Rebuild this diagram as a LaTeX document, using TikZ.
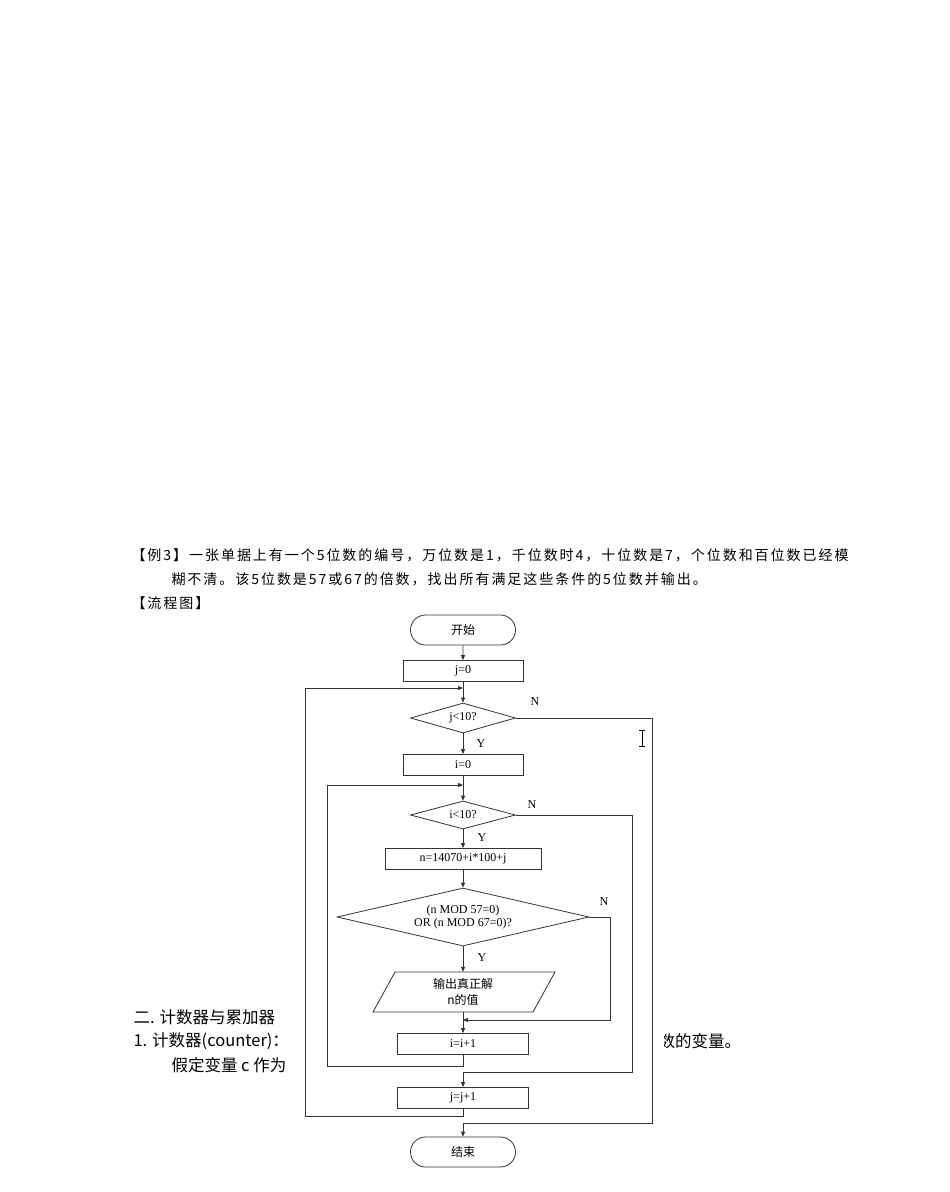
\documentclass[tikz,border=0pt]{standalone}
\usepackage{fontspec}
\setmainfont{Liberation Serif}
\newfontfamily\cjk{Noto Sans CJK SC}
\newfontfamily\cjkw[LetterSpace=14]{Noto Sans CJK SC}
\usetikzlibrary{shapes.geometric,shapes.misc,arrows.meta}
\begin{document}
\begin{tikzpicture}[x=1pt,y=-1pt,
  ln/.style={line width=0.8pt,draw=black!80},
  arr/.style={ln,-{Triangle[length=5pt,width=4pt]}},
  box/.style={ln,rectangle,minimum height=21pt,inner sep=0pt,font=\fontsize{12}{13}\selectfont},
  term/.style={ln,rounded rectangle,minimum width=105pt,minimum height=30pt,inner sep=0pt,font=\cjk\fontsize{12}{13}\selectfont},
  dia/.style={ln,diamond,aspect=3.5,inner sep=0pt,font=\fontsize{12}{13}\selectfont},
  lbl/.style={font=\fontsize{12}{13}\selectfont},
  bt/.style={anchor=west,font=\cjkw\fontsize{14}{15}\selectfont},
  ct/.style={anchor=west,font=\cjk\fontsize{16.5}{17}\selectfont}]
\useasboundingbox (0,0) rectangle (950,1192);
% page text
\node[bt] (t1) at (128,555) {【例3】一张单据上有一个5位数的编号，万位数是1，千位数时4，十位数是7，个位数和百位数已经模};
\node[bt] (t2) at (168,579) {糊不清。该5位数是57或67的倍数，找出所有满足这些条件的5位数并输出。};
\node[bt] (t3) at (128,603) {【流程图】};
\node[ct] (t4) at (130,1017) {二. 计数器与累加器};
\node[ct] (t5) at (130,1041) {1. 计数器(counter)：};
\node[ct] (t6) at (168,1065) {假定变量 c 作为};
\node[ct] (t7) at (655,1041) {数的变量。};
\fill[white] (298,612) rectangle (664,1172);
% flowchart
\node[term] (start) at (463,630) {开始};
\node[box,minimum width=120pt] (j0) at (463,671) {j=0};
\node[dia,minimum width=105pt,minimum height=30pt] (dj) at (463,718) {j<10?};
\node[box,minimum width=120pt] (i0) at (463,765) {i=0};
\node[dia,minimum width=105pt,minimum height=28pt] (di) at (463,815) {i<10?};
\node[box,minimum width=156pt] (n) at (463,859) {n=14070+i*100+j};
\node[dia,minimum width=252pt,minimum height=58pt,align=center] (dm) at (463,917) {(n MOD 57=0)\\OR (n MOD 67=0)?};
\draw[ln] (373,1012) -- (395,972) -- (555,972) -- (533,1012) -- cycle;
\node[inner sep=0pt,align=center,font=\cjk\fontsize{12}{16}\selectfont,minimum width=160pt,minimum height=40pt] (out) at (463,992) {输出真正解\\n的值};
\node[box,minimum width=131pt] (ii) at (463,1044) {i=i+1};
\node[box,minimum width=131pt] (jj) at (463,1098) {j=j+1};
\node[term] (end) at (463,1152) {结束};
\coordinate (ja) at (463,688);
\coordinate (ia) at (463,785);
\coordinate (ma) at (463,1020);
\draw[arr] (start) -- (j0);
\draw[arr] (j0) -- (dj);
\draw[arr] (dj) -- (i0);
\draw[arr] (i0) -- (di);
\draw[arr] (di) -- (n);
\draw[arr] (n) -- (dm);
\draw[arr] (dm) -- (out);
\draw[arr] (out) -- (ii);
\draw[arr] (dm.east) -- (610,917) -- (610,1020) -- (ma);
\draw[arr] (ii.south) -- (463,1066) -- (327,1066) -- (327,785) -- (ia);
\draw[arr] (di.east) -- (632,815) -- (632,1072) -- (463,1072) -- (jj.north);
\draw[arr] (jj.south) -- (463,1116) -- (305,1116) -- (305,688) -- (ja);
\draw[arr] (dj.east) -- (652,718) -- (652,1123) -- (463,1123) -- (end.north);
\node[lbl] (ln1) at (535,702) {N};
\node[lbl] (ly1) at (481,744) {Y};
\node[lbl] (ln2) at (532,805) {N};
\node[lbl] (ly2) at (482,838) {Y};
\node[lbl] (ln3) at (604,902) {N};
\node[lbl] (ly3) at (482,958) {Y};
% text cursor
\draw[line width=0.8pt] (642,730) -- (642,746) (639,730) -- (645,730) (639,746) -- (645,746);
\end{tikzpicture}
\end{document}
